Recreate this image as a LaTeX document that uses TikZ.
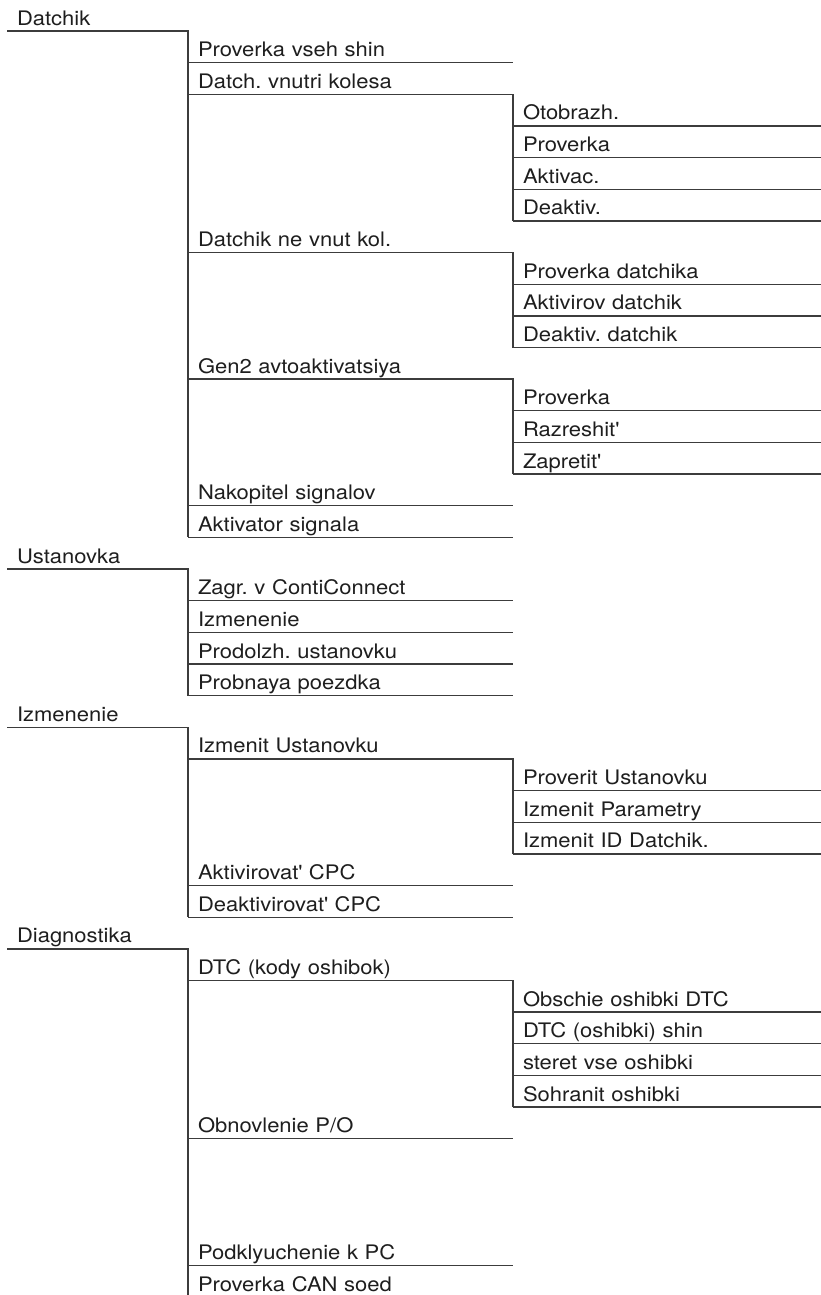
\documentclass[tikz,border=0pt]{standalone}
\usepackage{fontspec}
\setmainfont{TeX Gyre Heros}[FakeStretch=1.1]
\usepackage{tikz}
\definecolor{menuline}{HTML}{3C3C3C}
\definecolor{menutext}{HTML}{1E1E1E}
\newcommand{\ap}{\textquotesingle}
\frenchspacing

\begin{document}
\begin{tikzpicture}[x=0.75pt, y=-23.7375pt,
every node/.style = {anchor=south west, outer sep=0pt, inner xsep=7.5pt, inner ysep=4.5pt, text height=11pt, text depth=0pt, align=left, text=menutext, font=\fontsize{15pt}{18pt}\selectfont},
menu/.style = {text width=120.75pt},
submenu/.style = {text width=228.75pt},
subsubmenu/.style = {text width=216pt},
line/.style = {draw=menuline, line width=1pt}
]
\useasboundingbox (0,-0.9795) rectangle (821,39.937);

% Datchik
\node (datchik)[menu] at (7,0) {Datchik};
\node (prvshin)[submenu] at (188,1) {Proverka vseh shin};
\node (dvnkol)[submenu] at (188,2) {Datch. vnutri kolesa};
\node (otobr)[subsubmenu] at (513,3) {Otobrazh.};
\node (proverkaa)[subsubmenu] at (513,4) {Proverka};
\node (aktivac)[subsubmenu] at (513,5) {Aktivac.};
\node (deaktiv)[subsubmenu] at (513,6) {Deaktiv.};
\node (dnvkol)[submenu] at (188,7) {Datchik ne vnut kol.};
\node (prdatch)[subsubmenu] at (513,8) {Proverka datchika};
\node (aktdatch)[subsubmenu] at (513,9) {Aktivirov datchik};
\node (deakdatch)[subsubmenu] at (513,10) {Deaktiv. datchik};
\node (gentwo)[submenu] at (188,11) {Gen2 avtoaktivatsiya};
\node (proverkab)[subsubmenu] at (513,12) {Proverka};
\node (razresh)[subsubmenu] at (513,13) {Razreshit\ap};
\node (zapret)[subsubmenu] at (513,14) {Zapretit\ap};
\node (nakop)[submenu] at (188,15) {Nakopitel signalov};
\node (aktsig)[submenu] at (188,16) {Aktivator signala};

% Ustanovka
\node (ustanovka)[menu] at (7,17) {Ustanovka};
\node (zagr)[submenu] at (188,18) {Zagr. v ContiConnect};
\node (izmeneniea)[submenu] at (188,19) {Izmenenie};
\node (prodolzh)[submenu] at (188,20) {Prodolzh. ustanovku};
\node (probn)[submenu] at (188,21) {Probnaya poezdka};

% Izmenenie
\node (izmenenie)[menu] at (7,22) {Izmenenie};
\node (izmust)[submenu] at (188,23) {Izmenit Ustanovku};
\node (provust)[subsubmenu] at (513,24) {Proverit Ustanovku};
\node (izmpar)[subsubmenu] at (513,25) {Izmenit Parametry};
\node (izmid)[subsubmenu] at (513,26) {Izmenit ID Datchik.};
\node (aktcpc)[submenu] at (188,27) {Aktivirovat\ap{} CPC};
\node (deakcpc)[submenu] at (188,28) {Deaktivirovat\ap{} CPC};

% Diagnostika
\node (diagnostika)[menu] at (7,29) {Diagnostika};
\node (dtc)[submenu] at (188,30) {DTC (kody oshibok)};
\node (obsch)[subsubmenu] at (513,31) {Obschie oshibki DTC};
\node (dtcshin)[subsubmenu] at (513,32) {DTC (oshibki) shin};
\node (steret)[subsubmenu] at (513,33) {steret vse oshibki};
\node (sohr)[subsubmenu] at (513,34) {Sohranit oshibki};
\node (obnov)[submenu] at (188,35) {Obnovlenie P/O};
\node (podkl)[submenu] at (188,39) {Podklyuchenie k PC};
\node (provcan)[submenu] at (188,40) {Proverka CAN soed};

\draw[line] (datchik.south west) -- (datchik.south east) -- (aktsig.south west);
\draw[line] (prvshin.south west) -- (prvshin.south east);
\draw[line] (dvnkol.south west) -- (dvnkol.south east) -- (deaktiv.south west);
\draw[line] (otobr.south west) -- (otobr.south east);
\draw[line] (proverkaa.south west) -- (proverkaa.south east);
\draw[line] (aktivac.south west) -- (aktivac.south east);
\draw[line] (deaktiv.south west) -- (deaktiv.south east);
\draw[line] (dnvkol.south west) -- (dnvkol.south east) -- (deakdatch.south west);
\draw[line] (prdatch.south west) -- (prdatch.south east);
\draw[line] (aktdatch.south west) -- (aktdatch.south east);
\draw[line] (deakdatch.south west) -- (deakdatch.south east);
\draw[line] (gentwo.south west) -- (gentwo.south east) -- (zapret.south west);
\draw[line] (proverkab.south west) -- (proverkab.south east);
\draw[line] (razresh.south west) -- (razresh.south east);
\draw[line] (zapret.south west) -- (zapret.south east);
\draw[line] (nakop.south west) -- (nakop.south east);
\draw[line] (aktsig.south west) -- (aktsig.south east);

\draw[line] (ustanovka.south west) -- (ustanovka.south east) -- (probn.south west);
\draw[line] (zagr.south west) -- (zagr.south east);
\draw[line] (izmeneniea.south west) -- (izmeneniea.south east);
\draw[line] (prodolzh.south west) -- (prodolzh.south east);
\draw[line] (probn.south west) -- (probn.south east);

\draw[line] (izmenenie.south west) -- (izmenenie.south east) -- (deakcpc.south west);
\draw[line] (izmust.south west) -- (izmust.south east) -- (izmid.south west);
\draw[line] (provust.south west) -- (provust.south east);
\draw[line] (izmpar.south west) -- (izmpar.south east);
\draw[line] (izmid.south west) -- (izmid.south east);
\draw[line] (aktcpc.south west) -- (aktcpc.south east);
\draw[line] (deakcpc.south west) -- (deakcpc.south east);

\draw[line] (diagnostika.south west) -- (diagnostika.south east) -- (provcan.south west);
\draw[line] (dtc.south west) -- (dtc.south east) -- (sohr.south west);
\draw[line] (obsch.south west) -- (obsch.south east);
\draw[line] (dtcshin.south west) -- (dtcshin.south east);
\draw[line] (steret.south west) -- (steret.south east);
\draw[line] (sohr.south west) -- (sohr.south east);
\draw[line] (obnov.south west) -- (obnov.south east);
\draw[line] (podkl.south west) -- (podkl.south east);

\end{tikzpicture}
\end{document}
